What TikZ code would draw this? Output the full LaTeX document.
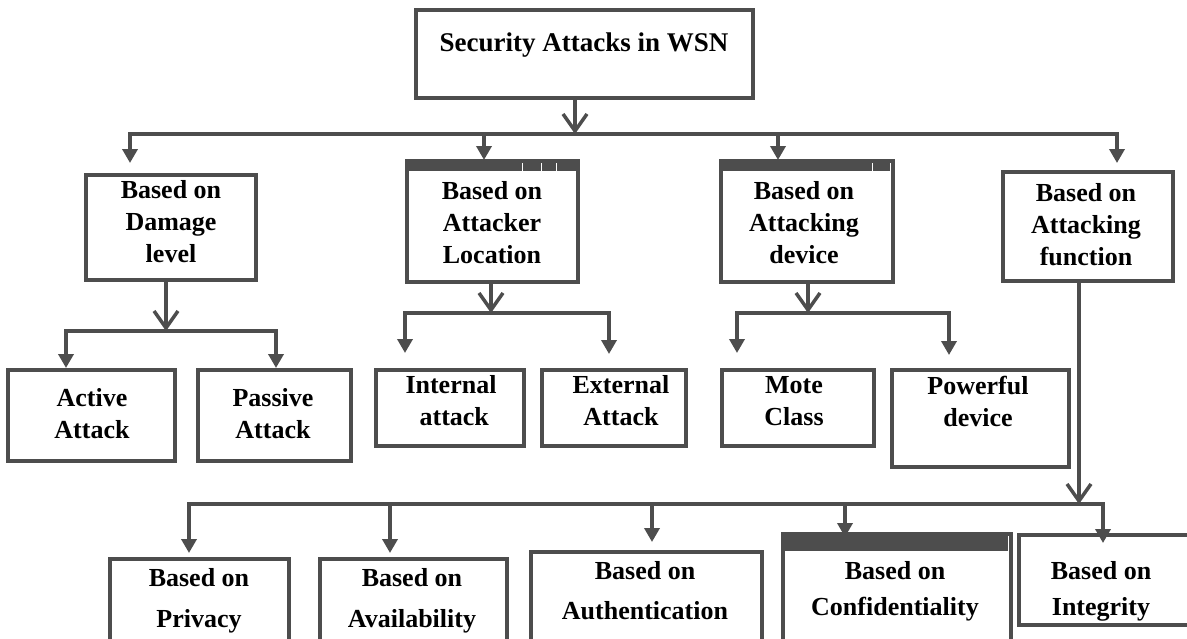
\documentclass[tikz,border=0pt]{standalone}
\usepackage{fontspec}
\setmainfont{Liberation Serif}
\usetikzlibrary{arrows.meta,fit}
\definecolor{linec}{RGB}{77,77,77}
\tikzset{
  box/.style={draw=linec, line width=3.5pt, inner sep=0pt, rectangle, fill=none},
  lbl/.style={font=\bfseries\fontsize{26}{32}\selectfont, align=center, text=black, inner sep=0pt},
  wire/.style={draw=linec, line width=3.5pt},
  fa/.style={wire, -{Triangle[width=15pt,length=14pt]}},
  fab/.style={wire, {Triangle[width=15pt,length=14pt]}-{Triangle[width=15pt,length=14pt]}},
  va/.style={wire, -{Straight Barb[width=24pt,length=17pt]}},
  tick/.style={draw=white, line width=1pt},
}
\begin{document}
\begin{tikzpicture}[x=1pt,y=-1pt]
\useasboundingbox (0,0) rectangle (1187,638);

% root
\node[box, fit={(416,10) (753,98)}] (top) {};
\node[lbl, font=\bfseries\fontsize{27}{32}\selectfont] (top-t) at (584,45) {Security Attacks in WSN};

% first level
\node[box, fit={(86,175) (256,280)}] (b1) {};
\node[lbl] (b1-t) at (171,222) {Based on\\Damage\\level};

\node[box, fit={(407,161) (578,282)}] (b2) {};
\fill[linec] (b2.north west) rectangle ([yshift=-12pt]b2.north east);
\draw[tick] (522,163) -- (522,171);
\draw[tick] (541,163) -- (541,171);
\draw[tick] (556,163) -- (556,171);
\node[lbl] (b2-t) at (492,223) {Based on\\Attacker\\Location};

\node[box, fit={(721,161) (893,282)}] (b3) {};
\fill[linec] (b3.north west) rectangle ([yshift=-12pt]b3.north east);
\draw[tick] (872,163) -- (872,171);
\draw[tick] (890,163) -- (890,171);
\node[lbl] (b3-t) at (804,223) {Based on\\Attacking\\device};

\node[box, fit={(1003,172) (1173,281)}] (b4) {};
\node[lbl] (b4-t) at (1086,225) {Based on\\Attacking\\function};

% second level
\node[box, fit={(8,370) (175,461)}] (a1) {};
\node[lbl] (a1-t) at (92,414) {Active\\Attack};
\node[box, fit={(198,370) (351,461)}] (a2) {};
\node[lbl] (a2-t) at (273,414) {Passive\\Attack};

\node[box, fit={(376,370) (524,446)}] (c1) {};
\node[lbl] (c1-t) at (451,401) {Internal\\\ attack};
\node[box, fit={(542,370) (686,446)}] (c2) {};
\node[lbl] (c2-t) at (621,401) {External\\Attack};

\node[box, fit={(722,370) (874,446)}] (d1) {};
\node[lbl] (d1-t) at (794,401) {Mote\\Class};
\node[box, fit={(892,370) (1069,467)}] (d2) {};
\node[lbl] (d2-t) at (978,401) {Powerful\\device};

% third level
\node[box, fit={(110,559) (289,660)}] (e1) {};
\node[lbl, font=\bfseries\fontsize{26}{41}\selectfont] (e1-t) at (199,601) {Based on\\Privacy};
\node[box, fit={(320,559) (507,660)}] (e2) {};
\node[lbl, font=\bfseries\fontsize{26}{41}\selectfont] (e2-t) at (412,601) {Based on\\Availability};
\node[box, fit={(531,552) (762,660)}] (e3) {};
\node[lbl, font=\bfseries\fontsize{26}{40}\selectfont] (e3-t) at (645,591) {Based on\\Authentication};
\node[box, fit={(783,534) (1011,660)}] (e4) {};
\fill[linec] (e4.north west) rectangle ([yshift=-19pt]e4.north east);
\draw[tick] (1008,536) -- (1008,552);
\node[lbl, font=\bfseries\fontsize{26}{36}\selectfont] (e4-t) at (895,591) {Based on\\Confidentiality};
\node[box, fit={(1019,535) (1200,625)}] (e5) {};
\node[lbl, font=\bfseries\fontsize{26}{36}\selectfont] (e5-t) at (1101,591) {Based on\\Integrity};

% root to first level
\coordinate (j0) at (575,134);
\coordinate (p1) at (130,163);
\coordinate (p2) at (484,160);
\coordinate (p3) at (778,160);
\coordinate (p4) at (1117,163);
\draw[va] (top.south -| j0) -- (j0);
\draw[fab] (p1) -- (p1 |- j0) -- (p4 |- j0) -- (p4);
\draw[fa] (p2 |- j0) -- (p2);
\draw[fa] (p3 |- j0) -- (p3);

% damage level
\coordinate (m1) at (166,331);
\coordinate (q1) at (66,368);
\coordinate (q2) at (276,368);
\draw[va] (b1.south -| m1) -- (m1);
\draw[fab] (q1) -- (q1 |- m1) -- (q2 |- m1) -- (q2);

% attacker location
\coordinate (m2) at (491,313);
\coordinate (r1) at (405,353);
\coordinate (r2) at (609,354);
\draw[va] (b2.south -| m2) -- (m2);
\draw[fab] (r1) -- (r1 |- m2) -- (r2 |- m2) -- (r2);

% attacking device
\coordinate (m3) at (808,313);
\coordinate (s1) at (737,353);
\coordinate (s2) at (949,355);
\draw[va] (b3.south -| m3) -- (m3);
\draw[fab] (s1) -- (s1 |- m3) -- (s2 |- m3) -- (s2);

% attacking function
\coordinate (m4) at (1079,504);
\coordinate (u1) at (189,553);
\coordinate (u2) at (390,553);
\coordinate (u3) at (652,542);
\coordinate (u4) at (845,537);
\coordinate (u5) at (1103,543);
\draw[va] (b4.south -| m4) -- (m4);
\draw[fab] (u1) -- (u1 |- m4) -- (u5 |- m4) -- (u5);
\draw[fa] (u2 |- m4) -- (u2);
\draw[fa] (u3 |- m4) -- (u3);
\draw[fa] (u4 |- m4) -- (u4);
\end{tikzpicture}
\end{document}
